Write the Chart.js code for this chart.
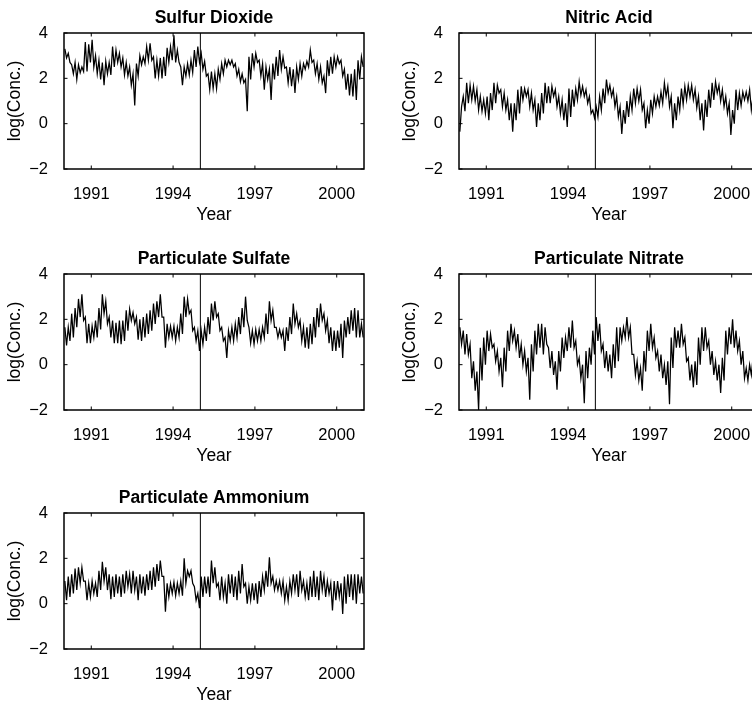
<!DOCTYPE html>
<html>
<head>
<meta charset="utf-8">
<script src="https://cdn.jsdelivr.net/npm/chart.js"></script>
<style>
  html, body { margin: 0; padding: 0; background: #fff; overflow: hidden; }
  body { width: 752px; height: 707px; position: relative; }
  canvas { position: absolute; }
</style>
</head>
<body>
<canvas id="c1" width="376" height="235" style="left:0px;top:0px"></canvas>
<canvas id="c2" width="376" height="235" style="left:395px;top:0px"></canvas>
<canvas id="c3" width="376" height="235" style="left:0px;top:241px"></canvas>
<canvas id="c4" width="376" height="235" style="left:395px;top:241px"></canvas>
<canvas id="c5" width="376" height="235" style="left:0px;top:480px"></canvas>
<script>
const startYear = 1990
const step = 1 / 16
const cutYear = 1995
const yearTicks = [1991, 1994, 1997, 2000]
const concTicks = [-2, 0, 2, 4]
const titles = ['Sulfur Dioxide', 'Nitric Acid', 'Particulate Sulfate', 'Particulate Nitrate', 'Particulate Ammonium']

const so2 = [
  3.3,2.9, 3.1,2.7, 2.6,2.2, 2.7,1.95, 2.6,2.25, 2.5,2.3, 3.6,2.3, 3.5,2.7,
  3.7,2.5, 3.0,2.2, 2.8,1.95, 2.7,1.7, 2.75,2.2, 2.7,2.15, 3.4,2.5, 3.25,2.7,
  3.1,2.5, 2.9,2.15, 2.7,2.1, 2.5,1.7, 2.2,0.8, 2.65,2.1, 3.0,2.6, 2.95,2.65,
  3.4,2.8, 3.55,2.8, 2.95,2.0, 2.8,2.1, 2.9,2.0, 2.95,2.1, 3.35,2.7, 3.4,2.8,
  3.9,2.7, 3.25,2.7, 2.5,1.7, 2.5,2.1, 2.65,2.15, 2.8,2.25, 3.25,2.5, 3.4,2.7,
  3.1,2.4, 2.75,2.1, 2.2,1.5, 2.3,1.55, 2.2,1.55, 2.4,1.95, 2.65,2.2, 2.8,2.5,
  2.8,2.6, 2.8,2.5, 2.65,2.1, 2.4,1.85, 2.2,1.8, 1.95,0.55, 2.95,1.95, 3.1,2.5,
  3.1,2.7, 2.8,2.1, 2.65,1.5, 2.5,1.95, 2.4,1.05, 2.65,1.95, 2.95,2.1, 3.25,2.4,
  2.95,2.45, 2.5,1.8, 2.5,1.65, 2.4,1.35, 2.5,1.95, 2.65,2.1, 2.65,2.4, 2.75,2.5,
  3.25,2.7, 2.8,2.2, 2.65,1.95, 2.5,1.8, 2.1,1.35, 2.8,2.1, 2.95,2.2, 2.95,2.5,
  2.95,2.65, 2.8,2.1, 2.4,1.5, 2.2,1.25, 2.2,1.2, 2.4,1.05, 2.8,1.95, 2.95,2.5
]
const hno3 = [
  -0.35,0.75, 1.2,0.55, 1.8,0.9, 1.7,1.05, 1.65,1.0, 1.5,0.6, 1.2,0.55, 1.05,0.45,
  1.2,0.15, 1.35,0.6, 1.8,0.9, 1.7,1.35, 1.5,0.75, 1.35,0.6, 1.05,0.15, 0.9,-0.35,
  0.9,0.15, 1.5,0.45, 1.65,1.05, 1.55,1.2, 1.5,0.75, 1.35,0.6, 1.05,-0.15, 0.9,0.15,
  1.35,0.45, 1.8,0.9, 1.65,0.9, 1.65,1.2, 1.5,0.75, 1.2,0.45, 1.05,0.15, 0.9,-0.15,
  1.55,0.3, 1.5,0.75, 1.55,1.05, 1.85,1.25, 1.65,1.2, 1.5,0.9, 1.2,0.45, 0.6,0.25,
  0.75,0.3, 1.2,0.6, 1.55,0.9, 1.95,1.35, 1.7,1.2, 1.5,0.75, 1.2,0.3, 0.75,-0.45,
  0.6,0.0, 1.0,0.3, 1.2,0.6, 1.55,0.9, 1.55,1.0, 1.5,0.6, 0.9,-0.2, 0.6,0.0,
  1.05,0.45, 1.2,0.75, 1.2,0.8, 1.4,0.9, 1.8,1.2, 1.65,0.75, 1.2,-0.2, 0.9,0.15,
  1.2,0.6, 1.55,0.85, 1.65,1.05, 1.7,1.2, 1.7,1.05, 1.5,0.7, 1.2,0.15, 0.9,-0.3,
  1.05,0.3, 1.5,0.7, 1.8,1.05, 1.85,1.35, 1.7,1.0, 1.5,0.75, 1.2,0.45, 0.9,-0.5,
  0.6,0.0, 1.5,0.6, 1.35,0.8, 1.4,1.05, 1.4,1.0, 1.5,0.6, 1.2,0.5, 1.0,0.5
]
const so4 = [
  1.65,0.85, 1.65,1.05, 2.25,1.2, 2.5,1.65, 2.9,2.1, 3.1,1.95, 2.1,0.95, 1.8,0.95,
  1.7,1.2, 1.95,1.2, 2.5,1.55, 3.1,2.25, 2.8,1.8, 2.1,1.2, 1.95,0.95, 1.85,0.95,
  1.95,0.9, 1.95,1.05, 2.4,1.5, 2.45,1.95, 2.3,1.8, 2.1,1.1, 2.0,1.05, 2.1,1.2,
  2.25,1.35, 2.4,1.5, 2.7,1.8, 2.8,2.1, 3.1,2.1, 2.1,0.75, 1.8,1.2, 1.7,1.2,
  1.7,1.05, 1.65,1.2, 2.25,1.35, 3.0,2.1, 2.9,2.25, 2.4,1.5, 1.65,1.05, 1.5,0.6,
  1.5,0.9, 1.65,1.05, 2.1,1.35, 2.7,1.95, 2.8,2.1, 2.25,1.5, 1.65,1.05, 1.2,0.3,
  1.5,1.05, 1.65,1.05, 1.8,1.2, 2.1,1.35, 2.5,1.65, 3.0,1.95, 1.65,0.95, 1.5,0.9,
  1.55,1.05, 1.55,1.05, 1.65,1.2, 2.25,1.35, 2.8,1.95, 2.4,1.65, 1.65,1.2, 1.55,1.2,
  1.5,0.6, 1.65,1.05, 2.1,1.35, 2.7,1.8, 2.25,1.65, 1.95,1.05, 1.65,0.75, 1.65,0.7,
  1.8,0.9, 2.1,1.2, 2.5,1.65, 2.7,1.95, 2.25,1.5, 1.95,0.95, 1.65,0.6, 1.5,0.6,
  1.5,0.75, 1.8,0.3, 1.95,1.2, 2.1,1.35, 2.4,1.5, 2.5,1.2, 2.4,1.2, 1.8,1.2
]
const no3 = [
  1.65,0.9, 1.5,0.45, 1.35,0.45, 0.9,-0.6, 0.15,-1.15, -0.3,-2.0, 0.75,-0.7, 1.2,0.0,
  1.5,0.6, 1.35,0.75, 0.9,0.15, 0.6,-0.3, 0.3,-1.0, 0.75,-0.3, 1.5,0.6, 1.8,1.05,
  1.5,0.75, 1.35,0.3, 0.9,0.0, 0.6,-0.3, 0.3,-1.55, 0.9,-0.3, 1.5,0.45, 1.8,0.75,
  1.8,0.45, 1.65,0.9, 0.75,-0.15, 0.6,-0.45, 0.15,-1.1, 0.6,-0.3, 1.2,0.3, 1.2,0.6,
  1.65,0.75, 1.95,0.75, 1.05,0.0, 0.3,-0.6, 0.0,-1.7, 0.6,-0.6, 0.75,0.0, 1.5,0.45,
  2.1,1.05, 1.8,0.6, 0.9,-0.15, 0.6,-0.3, 0.45,-0.6, 0.9,-0.15, 1.65,0.15, 1.65,1.05,
  1.65,1.2, 2.1,1.2, 1.65,0.45, 0.45,-0.45, 0.15,-0.7, -0.15,-1.15, 0.6,-0.3, 1.5,0.6,
  1.8,0.75, 1.2,0.3, 0.6,-0.3, 0.45,-0.6, 0.0,-0.9, 0.15,-1.75, 1.2,-0.15, 1.65,0.75,
  1.5,0.75, 1.8,0.9, 1.2,0.15, 0.3,-0.7, 0.0,-1.0, 0.15,-0.9, 1.2,0.0, 1.65,0.6,
  1.65,0.75, 1.05,0.0, 0.6,-0.45, 0.15,-0.7, 0.0,-1.25, 0.3,-0.7, 1.5,0.45, 1.65,0.9,
  2.0,0.75, 1.5,0.6, 1.05,0.0, 0.6,-0.6, -0.15,-0.7, 0.0,-0.45, 0.3,-1.2, 0.5,-0.3
]
const nh4 = [
  1.0,0.15, 1.2,0.3, 1.3,0.45, 1.55,0.6, 1.6,0.9, 1.6,1.0, 1.0,0.15, 0.9,0.3,
  1.0,0.45, 0.9,0.3, 1.45,0.6, 1.85,1.0, 1.6,0.6, 1.3,0.2, 1.2,0.3, 1.3,0.45,
  1.2,0.3, 1.3,0.45, 1.45,0.75, 1.3,0.45, 1.45,0.6, 1.2,0.15, 1.3,0.45, 1.2,0.35,
  1.3,0.6, 1.45,0.6, 1.6,0.75, 1.75,1.0, 1.9,1.2, 1.2,-0.35, 0.9,0.3, 0.9,0.45,
  0.95,0.35, 0.9,0.45, 1.0,0.35, 2.0,0.9, 1.45,1.2, 1.45,0.9, 0.75,0.15, 0.45,-0.2,
  1.2,0.3, 1.2,0.45, 1.2,0.3, 1.9,0.9, 1.6,0.75, 0.9,0.15, 1.2,0.3, 0.9,0.0,
  1.3,0.45, 1.3,0.3, 1.2,0.15, 1.45,0.45, 1.75,0.75, 0.9,0.0, 0.75,0.15, 0.9,0.15,
  0.9,0.0, 1.0,0.3, 1.2,0.6, 1.45,0.75, 2.05,0.9, 1.2,0.6, 1.0,0.6, 1.0,0.45,
  1.0,0.15, 0.75,0.15, 1.0,0.45, 1.3,0.6, 1.3,0.3, 1.45,0.6, 1.0,0.3, 0.9,0.15,
  1.2,0.3, 1.45,0.3, 1.2,0.15, 1.45,0.6, 1.2,0.3, 1.0,0.45, 0.9,-0.3, 1.0,0.15,
  1.0,0.3, 0.9,-0.45, 1.2,0.0, 1.3,0.3, 1.3,0.15, 1.3,0.0, 1.3,0.45, 1.2,0.45
]

Chart.defaults.font.family = '"Liberation Sans", Arial, Helvetica, sans-serif'
Chart.defaults.color = '#000'

// matlab style box with inward tick marks
const boxTicks = {
  id: 'boxTicks',
  afterDatasetsDraw(chart) {
    const { ctx, chartArea: a, scales: { x, y } } = chart
    ctx.save()
    ctx.strokeStyle = '#000'
    ctx.lineWidth = 1
    ctx.beginPath()
    x.ticks.forEach(t => {
      const px = x.getPixelForValue(t.value)
      ctx.moveTo(px, a.bottom); ctx.lineTo(px, a.bottom - 3.5)
      ctx.moveTo(px, a.top); ctx.lineTo(px, a.top + 3.5)
    })
    y.ticks.forEach(t => {
      const py = y.getPixelForValue(t.value)
      ctx.moveTo(a.left, py); ctx.lineTo(a.left + 3.5, py)
      ctx.moveTo(a.right, py); ctx.lineTo(a.right - 3.5, py)
    })
    ctx.stroke()
    ctx.lineWidth = 1.5
    ctx.strokeRect(a.left, a.top, a.right - a.left, a.bottom - a.top)
    ctx.restore()
  }
}

function toPoints(vals) {
  return vals.map((v, i) => ({ x: startYear + step * (i + 0.5), y: v }))
}

function makePanel(id, title, vals) {
  new Chart(document.getElementById(id), {
    type: 'line',
    data: {
      datasets: [
        { data: toPoints(vals), borderColor: '#000', borderWidth: 1.25, pointRadius: 0, tension: 0 },
        { data: [{ x: cutYear, y: -2 }, { x: cutYear, y: 4 }], borderColor: '#000', borderWidth: 1, pointRadius: 0 }
      ]
    },
    options: {
      responsive: false,
      animation: false,
      layout: { padding: { left: 0, right: 12, top: 0, bottom: 0 } },
      plugins: {
        legend: { display: false },
        tooltip: { enabled: false },
        title: {
          display: true,
          fullSize: false,
          text: title,
          color: '#000',
          font: { size: 17.5, weight: 'bold' },
          padding: { top: 8, bottom: 4 }
        }
      },
      scales: {
        x: {
          type: 'linear',
          min: 1990,
          max: 2001,
          afterBuildTicks: s => { s.ticks = yearTicks.map(v => ({ value: v })) },
          afterFit: s => { s.height = 66 },
          grid: { display: false },
          border: { display: false },
          ticks: { font: { size: 16.5 }, padding: 8, autoSkip: false, maxRotation: 0, callback: v => String(v) },
          title: { display: true, text: 'Year', font: { size: 17.5 }, padding: { top: 0, bottom: 9.5 } }
        },
        y: {
          min: -2,
          max: 4,
          afterBuildTicks: s => { s.ticks = concTicks.map(v => ({ value: v })) },
          afterFit: s => { s.width = 64 },
          grid: { display: false },
          border: { display: false },
          ticks: { font: { size: 16.5 }, padding: 8, callback: v => (v < 0 ? '\u2212' + Math.abs(v) : String(v)) },
          title: { display: true, text: 'log(Conc.)', font: { size: 17.5 }, padding: { top: 4.5, bottom: 0 } }
        }
      }
    },
    plugins: [boxTicks]
  })
}

makePanel('c1', titles[0], so2)
makePanel('c2', titles[1], hno3)
makePanel('c3', titles[2], so4)
makePanel('c4', titles[3], no3)
makePanel('c5', titles[4], nh4)
</script>
</body>
</html>
